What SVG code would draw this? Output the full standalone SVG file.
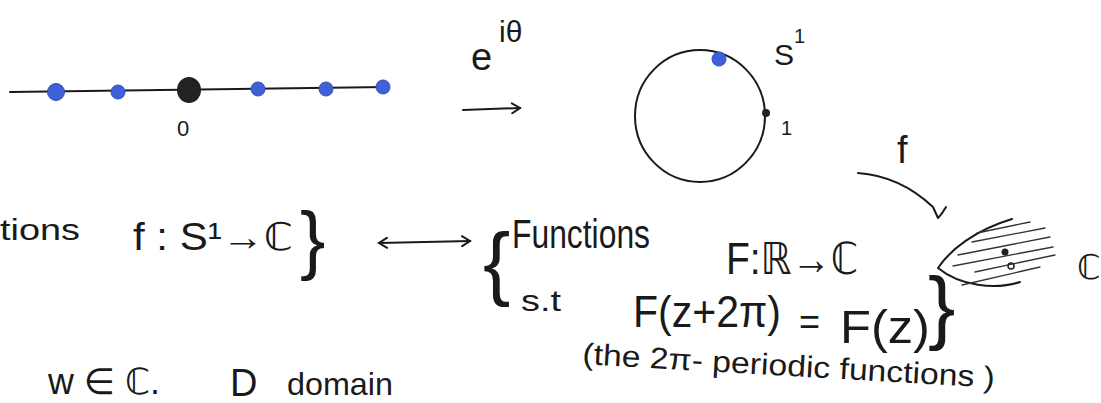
<svg xmlns="http://www.w3.org/2000/svg" width="1101" height="403" viewBox="0 0 1101 403">
<defs>
<style>
.t{font-family:"Liberation Sans","DejaVu Sans",sans-serif;fill:#1a1a1a}
.ink{fill:none;stroke:#1a1a1a;stroke-width:2;stroke-linecap:round;stroke-linejoin:round}
.thin{fill:none;stroke:#333;stroke-width:1.3;stroke-linecap:round}
.blue{fill:#4060d8;stroke:#2f4fc0;stroke-width:1}
.blk{fill:#222}
</style>
<marker id="head" markerWidth="12" markerHeight="12" refX="10" refY="6" orient="auto-start-reverse" markerUnits="userSpaceOnUse">
<path d="M2 1 L10 6 L2 11" fill="none" stroke="#1a1a1a" stroke-width="2" stroke-linecap="round"/>
</marker>
</defs>
<rect width="1101" height="403" fill="#fff"/>

<g id="real-line">
<path class="ink" d="M10 92 L387 87" stroke-width="1.6"/>
<circle class="blue" cx="56" cy="92" r="8.5"/>
<circle class="blue" cx="118" cy="92" r="7"/>
<ellipse class="blk" cx="189" cy="90" rx="12" ry="13"/>
<circle class="blue" cx="258" cy="89" r="7"/>
<circle class="blue" cx="326" cy="89" r="7"/>
<circle class="blue" cx="383" cy="87" r="7"/>
<text class="t" x="177" y="136" font-size="22">0</text>
</g>

<g id="exp-label">
<text class="t" x="471" y="70" font-size="38">e<tspan x="499" y="42" font-size="30">iθ</tspan></text>
</g>

<g id="circle-s1">
<ellipse class="ink" cx="700" cy="116" rx="65" ry="66"/>
<circle class="blue" cx="719" cy="59" r="7"/>
<circle class="blk" cx="766" cy="113" r="4"/>
<text class="t" x="774" y="65" font-size="30">S<tspan x="794" y="43" font-size="20">1</tspan></text>
<text class="t" x="781" y="135" font-size="20">1</text>
</g>

<g id="f-label">
<text class="t" x="897" y="163" font-size="38">f</text>
</g>

<g id="complex-plane">
<path class="ink" d="M1012 219 C975 230 950 250 938 268 C960 286 995 290 1020 282"/>
<path class="thin" d="M977 233 L1030 222 M972 242 L1045 228 M958 255 L1050 237 M953 266 L1053 247 M975 272 L1055 255 M962 285 L1040 267"/>
<circle class="blk" cx="1005" cy="252" r="3.5"/>
<circle cx="1011" cy="266" r="3" fill="none" stroke="#222" stroke-width="1.5"/>
<text class="t" x="1077" y="279" font-size="34">ℂ</text>
</g>

<g id="left-set">
<text class="t" x="0" y="240" font-size="30" textLength="80" lengthAdjust="spacingAndGlyphs">tions</text>
<text class="t" x="133" y="250" font-size="38" textLength="160" lengthAdjust="spacingAndGlyphs">f : S¹→ℂ</text>
<text class="t" x="300" y="265" font-size="76">}</text>
</g>

<g id="right-set">
<text class="t" x="483" y="290" font-size="82">{</text>
<text class="t" x="512" y="248" font-size="40" textLength="138" lengthAdjust="spacingAndGlyphs">Functions</text>
<text class="t" x="726" y="274" font-size="44" textLength="132" lengthAdjust="spacingAndGlyphs">F:ℝ→ℂ</text>
<text class="t" x="521" y="311" font-size="30" textLength="40" lengthAdjust="spacingAndGlyphs">s.t</text>
<text class="t" x="633" y="327" font-size="44" textLength="148" lengthAdjust="spacingAndGlyphs">F(z+2π)</text>
<text class="t" x="799" y="334" font-size="36">=</text>
<text class="t" x="840" y="343" font-size="46" textLength="90" lengthAdjust="spacingAndGlyphs">F(z)</text>
<text class="t" x="928" y="334" font-size="82">}</text>
<text class="t" x="582" y="364" font-size="30" textLength="413" lengthAdjust="spacingAndGlyphs" transform="rotate(3.3 582 364)">(the 2π- periodic functions )</text>
</g>

<g id="bottom-notes">
<text class="t" x="48" y="394" font-size="36" textLength="112" lengthAdjust="spacingAndGlyphs">w ∈ ℂ.</text>
<text class="t" x="230" y="396" font-size="38">D</text>
<text class="t" x="287" y="395" font-size="32" textLength="106" lengthAdjust="spacingAndGlyphs">domain</text>
</g>

<g id="connectors">
<path class="ink" d="M463 110 L520 108" marker-end="url(#head)"/>
<path class="ink" d="M858 173 Q900 176 933 207 L938 218 Q942 214 946 207"/>
<path class="ink" d="M379 243 L470 241" marker-start="url(#head)" marker-end="url(#head)"/>
</g>
</svg>
